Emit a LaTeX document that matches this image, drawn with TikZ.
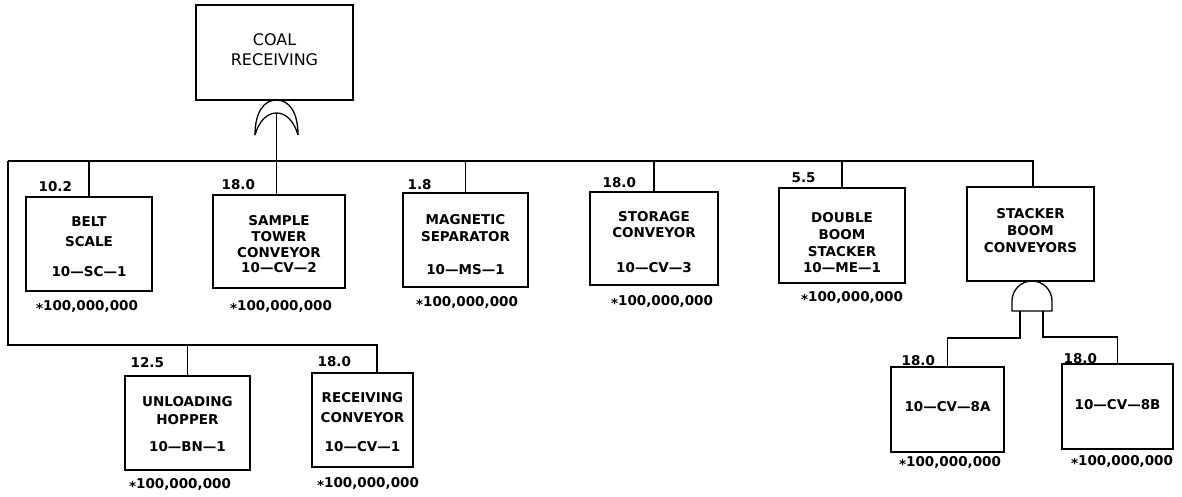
\documentclass[tikz,border=0pt]{standalone}
\usepackage{fontspec}
\newfontfamily\dv{DejaVu Sans}
\begin{document}
\begin{tikzpicture}[x=1pt,y=-1pt,line width=1.3pt,
  box/.style={draw,inner sep=0pt},
  txt/.style={font=\dv\bfseries\fontsize{13.5}{15.7}\selectfont,align=center,inner sep=0pt},
  toptxt/.style={font=\dv\fontsize{16}{20}\selectfont,align=center,inner sep=0pt},
  num/.style={font=\dv\bfseries\fontsize{13.5}{15.7}\selectfont,anchor=west,inner sep=0pt},
  cost/.style={font=\dv\bfseries\fontsize{13.5}{15.7}\selectfont,inner sep=0pt}]
\useasboundingbox (0,0) rectangle (1182,497);

% top event
\node[box,minimum width=157pt,minimum height=95pt] (top) at (274.5,52.5) {};
\node[toptxt] (top-t) at (274.5,50) {COAL\\RECEIVING};

% first row boxes
\node[box,minimum width=126pt,minimum height=94pt] (bs) at (89,244) {};
\node[box,minimum width=132pt,minimum height=93pt] (st) at (279,241.5) {};
\node[box,minimum width=125pt,minimum height=94pt] (ms) at (465.5,240) {};
\node[box,minimum width=128pt,minimum height=93pt] (sc) at (654,238.5) {};
\node[box,minimum width=126pt,minimum height=95pt] (db) at (842,235.5) {};
\node[box,minimum width=127pt,minimum height=94pt] (sb) at (1030.5,234) {};
% lower boxes
\node[box,minimum width=125pt,minimum height=94pt] (uh) at (187.5,423) {};
\node[box,minimum width=101pt,minimum height=94pt] (rc) at (362.5,420) {};
\node[box,minimum width=113pt,minimum height=85pt] (c8a) at (947.5,409.5) {};
\node[box,minimum width=111pt,minimum height=85pt] (c8b) at (1117.5,406.5) {};

% box texts
\node[txt] (bs-t) at (89,247) {BELT\\[4.3pt]SCALE\\[14.3pt]10—SC—1};
\node[txt] (st-t) at (279,244.5) {SAMPLE\\TOWER\\CONVEYOR\\10—CV—2};
\node[txt] (ms-t) at (465.5,245) {MAGNETIC\\[1.3pt]SEPARATOR\\[17.3pt]10—MS—1};
\node[txt] (sc-t) at (654,242.5) {STORAGE\\[0.3pt]CONVEYOR\\[19.3pt]10—CV—3};
\node[txt] (db-t) at (842,243) {DOUBLE\\[1pt]BOOM\\[1pt]STACKER\\[1pt]10—ME—1};
\node[txt] (sb-t) at (1030.5,231) {STACKER\\[1.3pt]BOOM\\[1.3pt]CONVEYORS};
\node[txt] (uh-t) at (187.5,424.5) {UNLOADING\\[2.3pt]HOPPER\\[11.3pt]10—BN—1};
\node[txt] (rc-t) at (362.5,422.5) {RECEIVING\\[4.3pt]CONVEYOR\\[13.3pt]10—CV—1};
\node[txt] (c8a-t) at (947.5,407) {10—CV—8A};
\node[txt] (c8b-t) at (1117.5,405) {10—CV—8B};

% numbers
\node[num] (bs-n) at (38,187) {10.2};
\node[num] (st-n) at (221,185) {18.0};
\node[num] (ms-n) at (407,185) {1.8};
\node[num] (sc-n) at (602,183) {18.0};
\node[num] (db-n) at (791,178) {5.5};
\node[num] (uh-n) at (130,363) {12.5};
\node[num] (rc-n) at (317,362) {18.0};
\node[num] (c8a-n) at (901,361) {18.0};
\node[num] (c8b-n) at (1063,359) {18.0};

% costs
\node[cost] (bs-c) at (87,307) {\raisebox{-2.5pt}{*}100,000,000};
\node[cost] (st-c) at (281,307) {\raisebox{-2.5pt}{*}100,000,000};
\node[cost] (ms-c) at (467,303) {\raisebox{-2.5pt}{*}100,000,000};
\node[cost] (sc-c) at (662,302) {\raisebox{-2.5pt}{*}100,000,000};
\node[cost] (db-c) at (852,298) {\raisebox{-2.5pt}{*}100,000,000};
\node[cost] (uh-c) at (180,485) {\raisebox{-2.5pt}{*}100,000,000};
\node[cost] (rc-c) at (368,484) {\raisebox{-2.5pt}{*}100,000,000};
\node[cost] (c8a-c) at (950,463) {\raisebox{-2.5pt}{*}100,000,000};
\node[cost] (c8b-c) at (1122,462) {\raisebox{-2.5pt}{*}100,000,000};

% OR gate
\coordinate (orout) at (276.5,113);
\draw (255,135) .. controls (255,112) and (264,100) .. (276.5,100)
      .. controls (289,100) and (298,112) .. (298,135);
\draw (255,135) .. controls (259,121) and (267,113) .. (276.5,113)
      .. controls (286,113) and (294,121) .. (298,135);

% AND gate
\draw (1012,311) -- (1012,301) .. controls (1012,290) and (1021,281) .. (1032,281)
      .. controls (1043,281) and (1052,290) .. (1052,301) -- (1052,311) -- cycle;
\coordinate (andL) at (1020,311);
\coordinate (andR) at (1043,311);

% connectors
\coordinate (busL) at (8,161);
\coordinate (busR) at (1033,161);
\coordinate (lowR) at (377,345);
\draw (orout) -- (orout |- st.north);
\draw (busL) -- (busR) -- (busR |- sb.north);
\draw (bs.north) -- (bs.north |- busL);
\draw (ms.north) -- (ms.north |- busL);
\draw (sc.north) -- (sc.north |- busL);
\draw (db.north) -- (db.north |- busL);
\draw (busL) |- (lowR) -- (lowR |- rc.north);
\draw (uh.north) -- (uh.north |- lowR);
\draw (andL) -- ++(0,27) -| (c8a.north);
\draw (andR) -- ++(0,26) -| (c8b.north);
\end{tikzpicture}
\end{document}
